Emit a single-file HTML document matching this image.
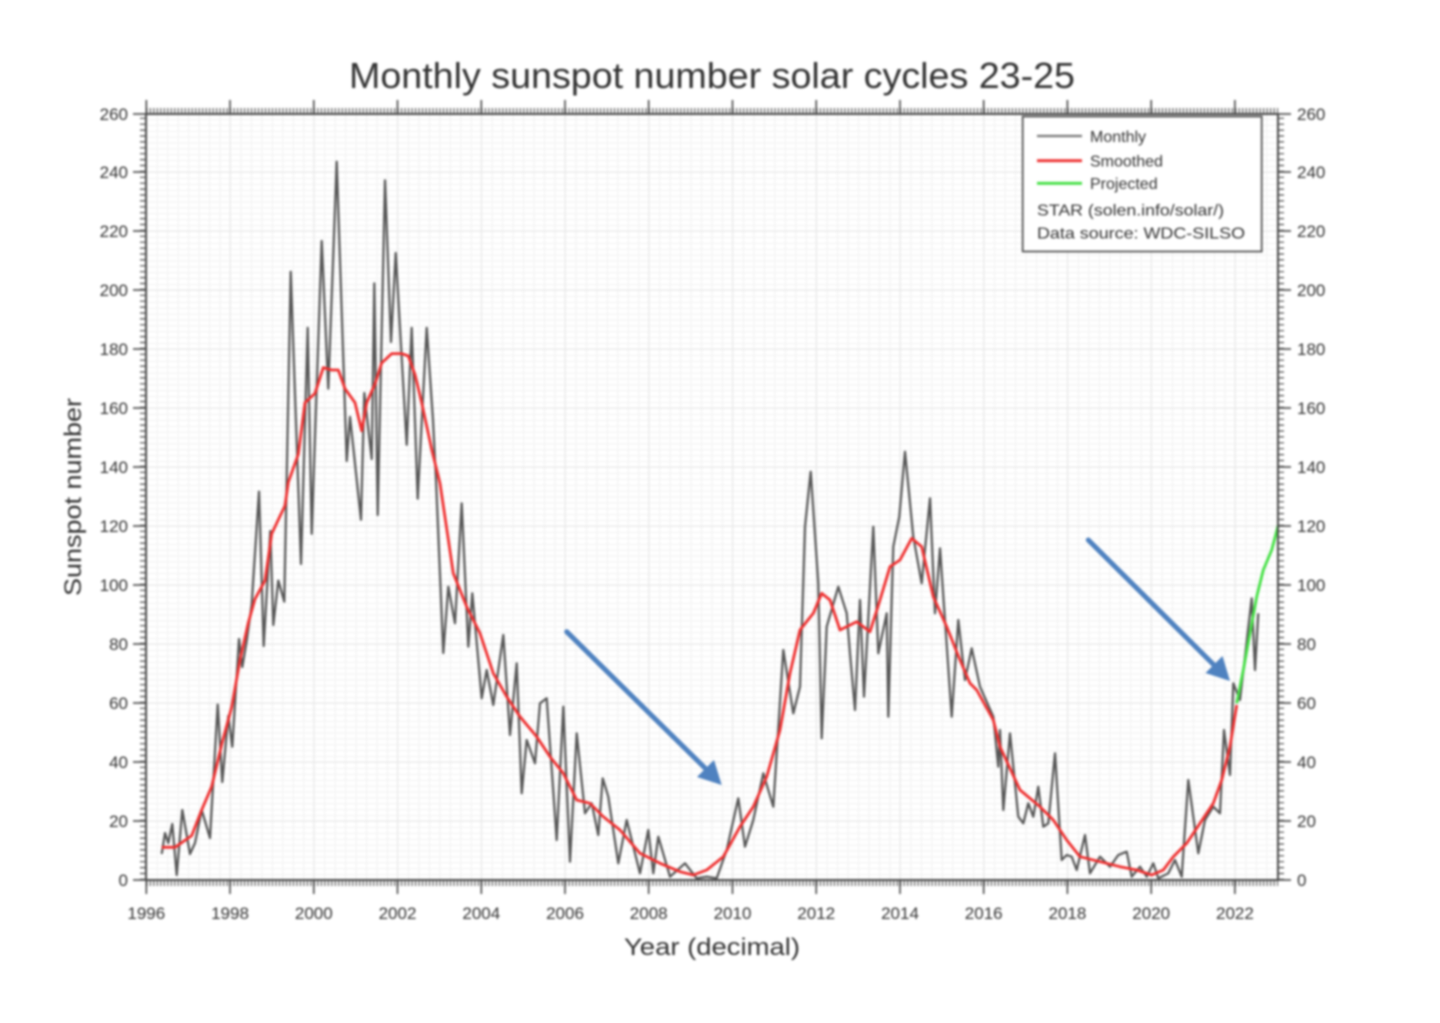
<!DOCTYPE html>
<html>
<head>
<meta charset="utf-8">
<style>
  html,body{margin:0;padding:0;background:#fff;}
  svg{display:block;filter:blur(1.1px);}
  text{font-family:"Liberation Sans",Arial,sans-serif;fill:#333;}
</style>
</head>
<body>
<svg width="1440" height="1023" viewBox="0 0 1440 1023" xmlns="http://www.w3.org/2000/svg">
  <defs>
    <pattern id="gridMinor" x="146.3" y="880" width="10.4675" height="5.9" patternUnits="userSpaceOnUse">
      <line x1="0.5" y1="0" x2="0.5" y2="5.9" stroke="#f1f1f1" stroke-width="1"/>
      <line x1="0" y1="0.5" x2="10.4675" y2="0.5" stroke="#f1f1f1" stroke-width="1"/>
    </pattern>
  </defs>
  <rect x="0" y="0" width="1440" height="1023" fill="#fff"/>

  <!-- title -->
  <text x="712" y="88" font-size="36" text-anchor="middle" textLength="726" lengthAdjust="spacingAndGlyphs" fill="#2a2a2a">Monthly sunspot number solar cycles 23-25</text>

  <!-- plot background grid -->
  <rect x="146" y="114" width="1132" height="766" fill="url(#gridMinor)"/>
  <g stroke="#e8e8e8" stroke-width="1">
    <line x1="230" y1="114" x2="230" y2="880"/>
    <line x1="313.8" y1="114" x2="313.8" y2="880"/>
    <line x1="397.5" y1="114" x2="397.5" y2="880"/>
    <line x1="481.3" y1="114" x2="481.3" y2="880"/>
    <line x1="565" y1="114" x2="565" y2="880"/>
    <line x1="648.7" y1="114" x2="648.7" y2="880"/>
    <line x1="732.5" y1="114" x2="732.5" y2="880"/>
    <line x1="816.2" y1="114" x2="816.2" y2="880"/>
    <line x1="900" y1="114" x2="900" y2="880"/>
    <line x1="983.7" y1="114" x2="983.7" y2="880"/>
    <line x1="1067.4" y1="114" x2="1067.4" y2="880"/>
    <line x1="1151.2" y1="114" x2="1151.2" y2="880"/>
    <line x1="1234.9" y1="114" x2="1234.9" y2="880"/>
    <line x1="146" y1="821" x2="1278" y2="821"/>
    <line x1="146" y1="762" x2="1278" y2="762"/>
    <line x1="146" y1="703" x2="1278" y2="703"/>
    <line x1="146" y1="644" x2="1278" y2="644"/>
    <line x1="146" y1="585" x2="1278" y2="585"/>
    <line x1="146" y1="526" x2="1278" y2="526"/>
    <line x1="146" y1="467" x2="1278" y2="467"/>
    <line x1="146" y1="408" x2="1278" y2="408"/>
    <line x1="146" y1="349" x2="1278" y2="349"/>
    <line x1="146" y1="290" x2="1278" y2="290"/>
    <line x1="146" y1="231" x2="1278" y2="231"/>
    <line x1="146" y1="172" x2="1278" y2="172"/>
  </g>

  <!-- monthly -->
  <polyline fill="none" stroke="#555" stroke-width="2.2" stroke-linejoin="round" points="161.7,854 165,833 168.3,843 172.3,824 176.7,875 182.3,810 190,854 195,843 201.7,810 210,838 217.7,704.6 222.3,782 228.3,716 232.3,746.7 239,639 242.3,667 246.7,641 251.7,604 259,491.6 263.7,646 270.3,531 273.3,625 278.3,580.6 284.3,601.6 290.7,271.7 301,564 307.7,327.8 311.7,533.8 321.7,241 328.3,388.7 336.7,161.7 346.7,461 350,416.8 361,519.7 364.3,393 371.7,459 374.3,283.4 377.7,515 385,180.4 391,342 395.7,253 406.7,444.8 411.7,327.8 417.7,498.7 426.7,327.8 433,420 436,480 443.3,653 448.3,586.7 455,623.3 461.7,503.3 468.3,646.7 472.3,593.3 481.7,698.3 486.7,670 493.3,705 503.3,635 510,735 516.7,663.3 521.7,793.3 526.7,740 535,763.3 540,703.3 546.7,698.3 556.7,840 563.3,706.7 570,861.7 576.7,733.3 585,813.3 591.7,803.3 598.3,835 602.7,778.3 608.3,796.7 618.3,863.3 626.7,820 640,873.3 648.3,830 653.3,873.3 658.3,836.7 670,876.7 685,863.3 696.7,878.3 706.7,876.7 716.7,878.3 726.7,850 738.3,798.3 745,846.7 753.3,820 763.3,773.3 773.3,806.7 783.3,650 793.3,713.3 800,686.7 805,526.7 810.7,471.7 818.3,583.3 821.7,738.3 826.7,626.7 838.3,586.7 846.7,613.3 850,653.3 855,710 860,600 864,696.7 873.3,526.7 878.3,653.3 886.7,613.3 888.3,716.7 893.3,546.7 899.3,516.7 905,451.7 913.3,536.7 921.7,583.3 930,498.3 935,613.3 940,548.3 951.7,716.7 958.3,620 965,680 971.7,648.3 980,686.7 993.3,716.7 998.3,766.7 1000,730 1003.3,810 1010,733.3 1018.3,816.7 1023.3,823.3 1028.3,803.3 1033.3,816.7 1038.3,786.7 1043.3,826.7 1048.3,823.3 1055,753.3 1061.7,860 1066.7,855 1071.7,856.7 1076.7,870 1085,835 1090,873.3 1100,856.7 1110,866.7 1118.3,855 1126.7,851.7 1131.7,876.7 1140,866.7 1146.7,876.7 1153.3,863.3 1158.3,878.3 1168.3,873.3 1175,860 1181.7,876.7 1188.3,780 1198.3,853.3 1205,820 1213.3,806.7 1220,813.3 1224,730 1230,775 1233.3,683.3 1240,700 1251.7,598.3 1255,670 1258.3,613.3"/>

  <!-- smoothed -->
  <polyline fill="none" stroke="#ee3030" stroke-width="2.8" stroke-linejoin="round" points="161.7,847.3 175,847.3 191.7,835.6 201.7,809.9 211.7,786.5 221.7,744.4 231.7,707 240,660 248.3,622.7 255,599 265,580.6 271.7,533.8 278.3,519.7 285,505.7 288.3,482.3 298.3,454.2 305,402.7 315,393.4 323.3,367.6 331.7,370 338.3,370 345,388.7 355,402.7 361.7,430.8 366.7,402.7 375,384 381.7,363 391.7,353.6 401.7,353.6 408.3,356 415,374.6 421.7,402.7 431.7,449.5 440,483.3 453.3,573.3 466.7,606.7 480,633.3 493.3,673.3 506.7,696.7 520,716.7 536.7,736.7 550,756.7 563.3,773.3 576.7,800 590,803.3 603.3,816.7 620,830 640,853.3 660,863.3 680,871.7 693.3,875 706.7,870 723.3,856.7 740,826.7 753.3,806.7 766.7,776.7 780,730 790,673.3 800,630 813.3,613.3 821.7,593.3 830,600 840,630 856.7,621.7 870,631.7 880,600 890,566.7 900,560 911.7,538.3 921.7,546.7 933.3,596.7 946.7,626.7 960,660 970,683.3 976.7,690 993.3,720 1000,746.7 1020,790 1040,806.7 1053.3,820 1066.7,840 1080,856.7 1100,861.7 1120,866.7 1136.7,870 1151.7,875 1163.3,870 1173.3,856.7 1186.7,843.3 1200,823.3 1213.3,803.3 1221.7,780 1230,746.7 1236.7,705"/>

  <!-- projected -->
  <polyline fill="none" stroke="#44e044" stroke-width="2.8" stroke-linejoin="round" points="1236.7,703.3 1243.3,670 1250,633.3 1256.7,596.7 1263.3,570 1271.7,550 1278.3,525"/>

  <!-- arrows -->
  <g stroke="#4f82c0" stroke-width="5" stroke-linecap="round">
    <line x1="566.7" y1="631.7" x2="707" y2="770"/>
    <line x1="1088.3" y1="540" x2="1216" y2="667"/>
  </g>
  <g fill="#4f82c0">
    <polygon points="721.7,785 697,777 714,760"/>
    <polygon points="1230,681 1205.5,673 1222.5,656"/>
  </g>

  <!-- axes frame -->
  <rect x="146" y="114" width="1132" height="766" fill="none" stroke="#4a4a4a" stroke-width="2"/>

  <!-- minor ticks -->
  <g stroke="#4a4a4a">
    <line x1="142.5" y1="880" x2="142.5" y2="113" stroke-width="5" stroke-dasharray="1.2 4.7"/>
    <line x1="1281.5" y1="880" x2="1281.5" y2="113" stroke-width="5" stroke-dasharray="1.2 4.7"/>
    <line x1="146.3" y1="110.5" x2="1278" y2="110.5" stroke-width="5" stroke-dasharray="1.1 2.39"/>
    <line x1="146.3" y1="883.5" x2="1278" y2="883.5" stroke-width="5" stroke-dasharray="1.1 2.39"/>
  </g>

  <!-- major ticks -->
  <g stroke="#4a4a4a" stroke-width="1.6">
    <line x1="133" y1="880" x2="146" y2="880"/>
    <line x1="133" y1="821" x2="146" y2="821"/>
    <line x1="133" y1="762" x2="146" y2="762"/>
    <line x1="133" y1="703" x2="146" y2="703"/>
    <line x1="133" y1="644" x2="146" y2="644"/>
    <line x1="133" y1="585" x2="146" y2="585"/>
    <line x1="133" y1="526" x2="146" y2="526"/>
    <line x1="133" y1="467" x2="146" y2="467"/>
    <line x1="133" y1="408" x2="146" y2="408"/>
    <line x1="133" y1="349" x2="146" y2="349"/>
    <line x1="133" y1="290" x2="146" y2="290"/>
    <line x1="133" y1="231" x2="146" y2="231"/>
    <line x1="133" y1="172" x2="146" y2="172"/>
    <line x1="133" y1="114" x2="146" y2="114"/>
    <line x1="1278" y1="880" x2="1291" y2="880"/>
    <line x1="1278" y1="821" x2="1291" y2="821"/>
    <line x1="1278" y1="762" x2="1291" y2="762"/>
    <line x1="1278" y1="703" x2="1291" y2="703"/>
    <line x1="1278" y1="644" x2="1291" y2="644"/>
    <line x1="1278" y1="585" x2="1291" y2="585"/>
    <line x1="1278" y1="526" x2="1291" y2="526"/>
    <line x1="1278" y1="467" x2="1291" y2="467"/>
    <line x1="1278" y1="408" x2="1291" y2="408"/>
    <line x1="1278" y1="349" x2="1291" y2="349"/>
    <line x1="1278" y1="290" x2="1291" y2="290"/>
    <line x1="1278" y1="231" x2="1291" y2="231"/>
    <line x1="1278" y1="172" x2="1291" y2="172"/>
    <line x1="1278" y1="114" x2="1291" y2="114"/>
    <line x1="146.3" y1="880" x2="146.3" y2="894"/>
    <line x1="230" y1="880" x2="230" y2="894"/>
    <line x1="313.8" y1="880" x2="313.8" y2="894"/>
    <line x1="397.5" y1="880" x2="397.5" y2="894"/>
    <line x1="481.3" y1="880" x2="481.3" y2="894"/>
    <line x1="565" y1="880" x2="565" y2="894"/>
    <line x1="648.7" y1="880" x2="648.7" y2="894"/>
    <line x1="732.5" y1="880" x2="732.5" y2="894"/>
    <line x1="816.2" y1="880" x2="816.2" y2="894"/>
    <line x1="900" y1="880" x2="900" y2="894"/>
    <line x1="983.7" y1="880" x2="983.7" y2="894"/>
    <line x1="1067.4" y1="880" x2="1067.4" y2="894"/>
    <line x1="1151.2" y1="880" x2="1151.2" y2="894"/>
    <line x1="1234.9" y1="880" x2="1234.9" y2="894"/>
    <line x1="146.3" y1="100" x2="146.3" y2="114"/>
    <line x1="230" y1="100" x2="230" y2="114"/>
    <line x1="313.8" y1="100" x2="313.8" y2="114"/>
    <line x1="397.5" y1="100" x2="397.5" y2="114"/>
    <line x1="481.3" y1="100" x2="481.3" y2="114"/>
    <line x1="565" y1="100" x2="565" y2="114"/>
    <line x1="648.7" y1="100" x2="648.7" y2="114"/>
    <line x1="732.5" y1="100" x2="732.5" y2="114"/>
    <line x1="816.2" y1="100" x2="816.2" y2="114"/>
    <line x1="900" y1="100" x2="900" y2="114"/>
    <line x1="983.7" y1="100" x2="983.7" y2="114"/>
    <line x1="1067.4" y1="100" x2="1067.4" y2="114"/>
    <line x1="1151.2" y1="100" x2="1151.2" y2="114"/>
    <line x1="1234.9" y1="100" x2="1234.9" y2="114"/>
  </g>

  <!-- left tick labels -->
  <g font-size="17" text-anchor="end" fill="#444">
    <text x="128" y="886">0</text>
    <text x="128" y="827">20</text>
    <text x="128" y="768">40</text>
    <text x="128" y="709">60</text>
    <text x="128" y="650">80</text>
    <text x="128" y="591">100</text>
    <text x="128" y="532">120</text>
    <text x="128" y="473">140</text>
    <text x="128" y="414">160</text>
    <text x="128" y="355">180</text>
    <text x="128" y="296">200</text>
    <text x="128" y="237">220</text>
    <text x="128" y="178">240</text>
    <text x="128" y="120">260</text>
  </g>
  <!-- right tick labels -->
  <g font-size="17" text-anchor="start" fill="#444">
    <text x="1297" y="886">0</text>
    <text x="1297" y="827">20</text>
    <text x="1297" y="768">40</text>
    <text x="1297" y="709">60</text>
    <text x="1297" y="650">80</text>
    <text x="1297" y="591">100</text>
    <text x="1297" y="532">120</text>
    <text x="1297" y="473">140</text>
    <text x="1297" y="414">160</text>
    <text x="1297" y="355">180</text>
    <text x="1297" y="296">200</text>
    <text x="1297" y="237">220</text>
    <text x="1297" y="178">240</text>
    <text x="1297" y="120">260</text>
  </g>
  <!-- bottom tick labels -->
  <g font-size="17" text-anchor="middle" fill="#444">
    <text x="146.3" y="919">1996</text>
    <text x="230" y="919">1998</text>
    <text x="313.8" y="919">2000</text>
    <text x="397.5" y="919">2002</text>
    <text x="481.3" y="919">2004</text>
    <text x="565" y="919">2006</text>
    <text x="648.7" y="919">2008</text>
    <text x="732.5" y="919">2010</text>
    <text x="816.2" y="919">2012</text>
    <text x="900" y="919">2014</text>
    <text x="983.7" y="919">2016</text>
    <text x="1067.4" y="919">2018</text>
    <text x="1151.2" y="919">2020</text>
    <text x="1234.9" y="919">2022</text>
  </g>

  <!-- axis titles -->
  <text x="712" y="955" font-size="24" text-anchor="middle" textLength="176" lengthAdjust="spacingAndGlyphs" fill="#333">Year (decimal)</text>
  <text transform="translate(81,497) rotate(-90)" font-size="24" text-anchor="middle" textLength="198" lengthAdjust="spacingAndGlyphs" fill="#333">Sunspot number</text>

  <!-- legend -->
  <rect x="1022.7" y="116.5" width="239" height="135" fill="#fff" stroke="#555" stroke-width="1.8"/>
  <line x1="1037" y1="136" x2="1082" y2="136" stroke="#777" stroke-width="2.2"/>
  <line x1="1037" y1="160.7" x2="1082" y2="160.7" stroke="#ee3030" stroke-width="2.8"/>
  <line x1="1037" y1="183.3" x2="1082" y2="183.3" stroke="#44e044" stroke-width="2.8"/>
  <g font-size="16" fill="#444">
    <text x="1090" y="142">Monthly</text>
    <text x="1090" y="166.5">Smoothed</text>
    <text x="1090" y="189">Projected</text>
    <text x="1037" y="215.5" textLength="187" lengthAdjust="spacingAndGlyphs">STAR (solen.info/solar/)</text>
    <text x="1037" y="238.5" textLength="208" lengthAdjust="spacingAndGlyphs">Data source: WDC-SILSO</text>
  </g>
</svg>
</body>
</html>
